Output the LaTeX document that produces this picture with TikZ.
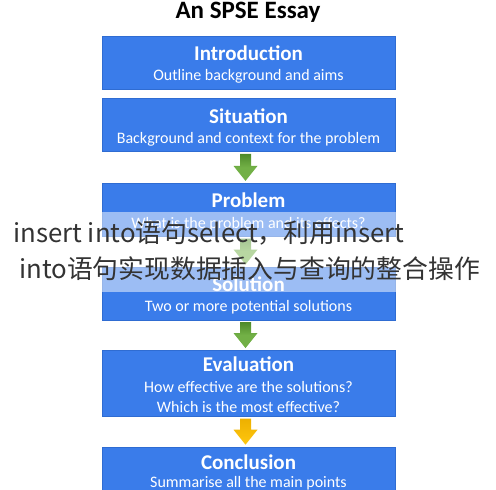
\documentclass[tikz,border=0pt]{standalone}
\usepackage{fontspec}
\setmainfont{Carlito}
\newfontfamily\cjkfont{Noto Sans CJK SC}
\usepackage{xcolor}
\usetikzlibrary{positioning, calc}
\definecolor{boxblue}{HTML}{3A7CEA}
\definecolor{boxedge}{HTML}{2F6CD2}
\definecolor{arrgreen}{HTML}{72B046}
\definecolor{arrgreendark}{HTML}{4E8A2A}
\definecolor{arryellow}{HTML}{FFC70F}
\definecolor{arryellowdark}{HTML}{EDB000}
\definecolor{wmgray}{HTML}{333333}
\tikzset{
    stage/.style={draw=boxedge, line width=0.6bp, fill=boxblue, minimum width=293bp, minimum height=#1, inner sep=0pt},
    stage/.default=53bp,
    greenarrow/.style={top color=arrgreendark, bottom color=arrgreen, middle color=arrgreen},
    yellowarrow/.style={top color=arryellowdark, bottom color=arryellow}
}
% block arrow from the foot of one stage to the head of the next
\newcommand{\blockarrow}[3]{%
    \shade[#3] let \p1=([xshift=-3bp,yshift=-2bp]#1.south), \p2=([xshift=-3bp,yshift=2bp]#2.north) in
        (\x1-5.5bp,\y1) -- (\x1+5.5bp,\y1) -- (\x1+5.5bp,\y2+15bp) -- (\x1+12bp,\y2+15bp)
        -- (\x1,\y2) -- (\x1-12bp,\y2+15bp) -- (\x1-5.5bp,\y2+15bp) -- cycle;
}

\begin{document}
\begin{tikzpicture}[
    x=1bp, y=-1bp,
    head/.style={anchor=base, text=white, inner sep=0pt, font=\fontsize{21bp}{24bp}\selectfont\bfseries},
    sub/.style={anchor=base, text=white, inner sep=0pt, font=\fontsize{16bp}{20bp}\selectfont},
    wm/.style={anchor=base west, text=wmgray, inner sep=0pt, font=\cjkfont\fontsize{25.8bp}{30bp}\selectfont}
]
\useasboundingbox (0,0) rectangle (496,490);

% Title
\node[anchor=base, inner sep=0pt, font=\fontsize{25bp}{30bp}\selectfont\bfseries] (title) at (248,19) {An SPSE Essay};

% Stages
\node[stage] (intro) at (248.5,62.5) {};
\node[stage, below=9bp of intro] (sit) {};
\node[stage, below=31bp of sit] (prob) {};
\node[stage, below=30bp of prob] (sol) {};
\node[stage=66bp, below=30bp of sol] (eval) {};
\node[stage, below=30bp of eval] (concl) {};

% Stage texts
\node[head] (intro-h) at ([yshift=-25bp]intro.north) {Introduction};
\node[sub] (intro-s) at ([yshift=-45bp]intro.north) {Outline background and aims};
\node[head] (sit-h) at ([yshift=-25bp]sit.north) {Situation};
\node[sub] (sit-s) at ([yshift=-45bp]sit.north) {Background and context for the problem};
\node[head] (prob-h) at ([yshift=-25bp]prob.north) {Problem};
\node[sub] (prob-s) at ([yshift=-46bp]prob.north) {What is the problem and its effects?};
\node[head] (sol-h) at ([yshift=-25bp]sol.north) {Solution};
\node[sub] (sol-s) at ([yshift=-45bp]sol.north) {Two or more potential solutions};
\node[head] (eval-h) at ([yshift=-21bp]eval.north) {Evaluation};
\node[sub] (eval-s1) at ([yshift=-42bp]eval.north) {How effective are the solutions?};
\node[sub] (eval-s2) at ([yshift=-62bp]eval.north) {Which is the most effective?};
\node[head] (concl-h) at ([yshift=-23bp]concl.north) {Conclusion};
\node[sub] (concl-s) at ([yshift=-41bp]concl.north) {Summarise all the main points};

% Arrows between stages
\foreach \a/\b/\s in {sit/prob/greenarrow, prob/sol/greenarrow, sol/eval/greenarrow, eval/concl/yellowarrow} {
    \blockarrow{\a}{\b}{\s}
}

% Watermark band and text
\fill[white, opacity=0.5] (0,212) rectangle (496,292);
\node[wm] (wm1) at (13,242) {insert into语句select，利用insert};
\node[wm] (wm2) at (19,278) {into语句实现数据插入与查询的整合操作};

\end{tikzpicture}
\end{document}
